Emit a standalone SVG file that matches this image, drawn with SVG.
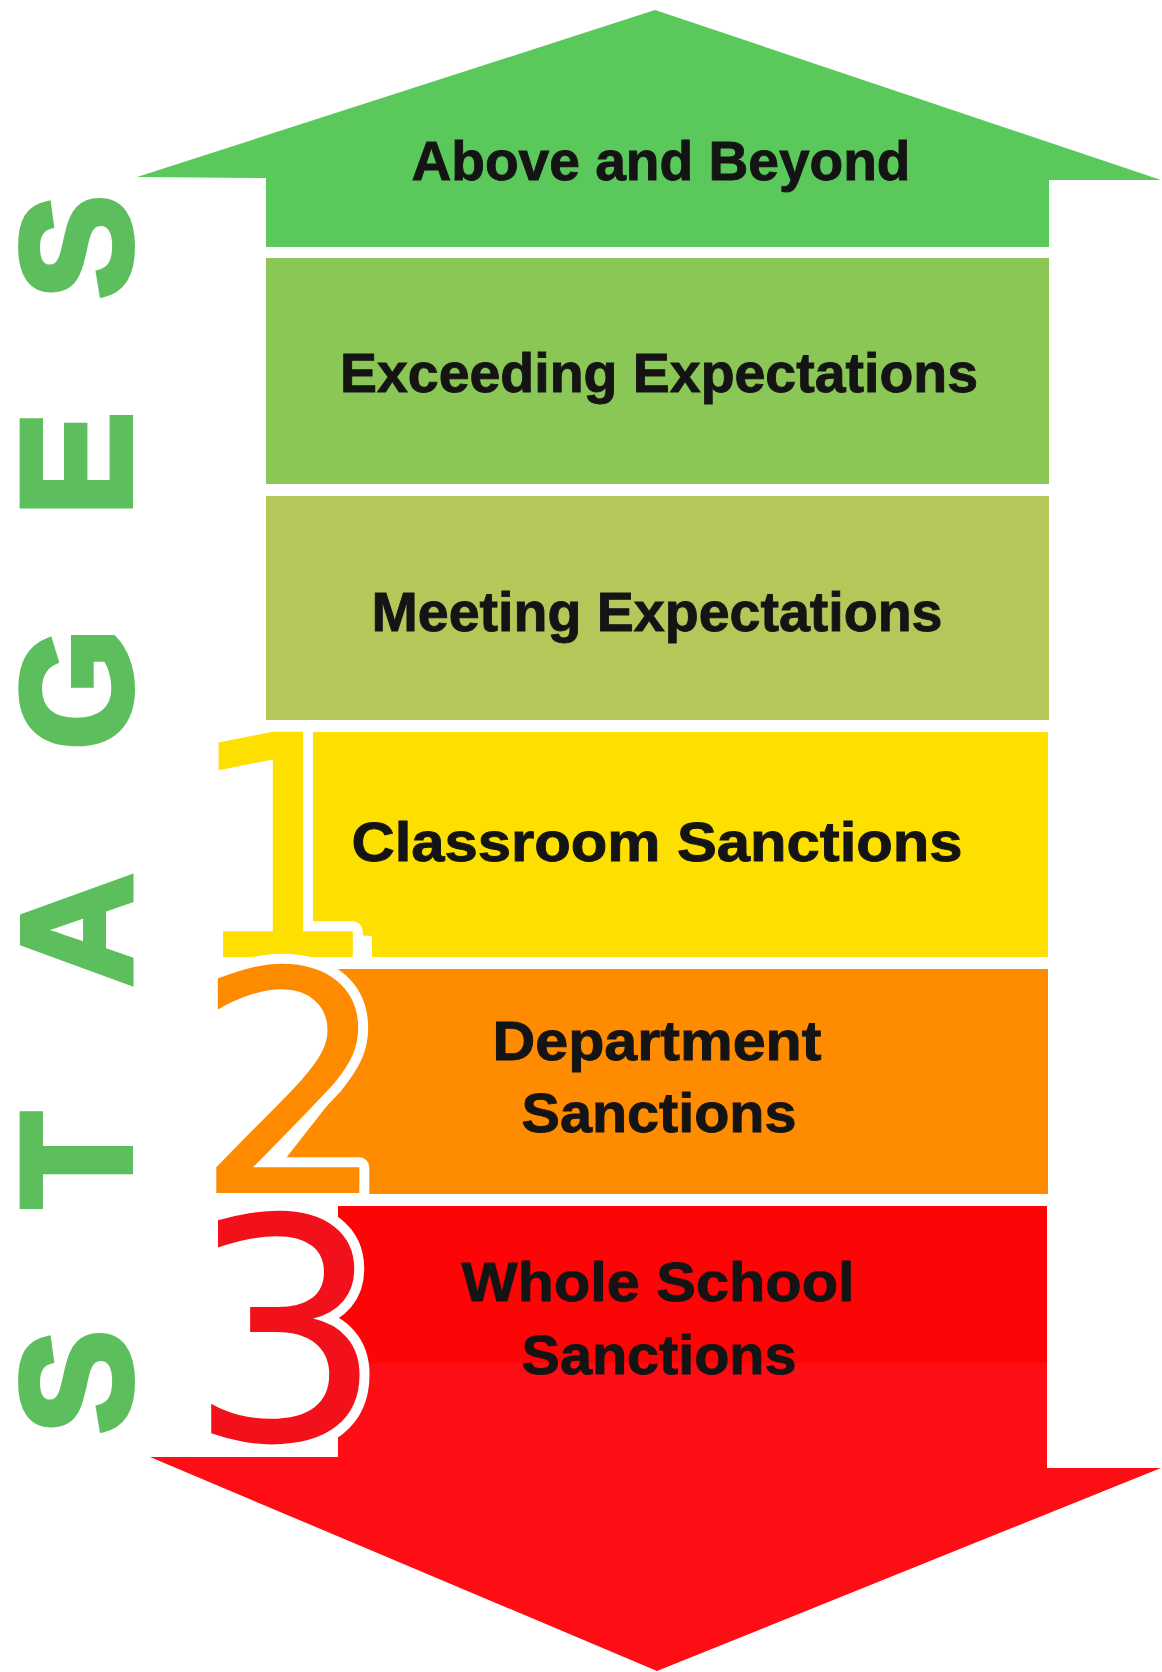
<svg xmlns="http://www.w3.org/2000/svg" width="1162" height="1672" viewBox="0 0 1162 1672">
  <style>
    .label { font-family: "Liberation Sans", Arial, sans-serif; font-weight: bold; text-anchor: middle; fill: #141414; stroke: #141414; stroke-width: 0.9px; }
    .big { font-size: 56px; }
    .mid { font-size: 55px; }
    .digit { font-family: "DejaVu Sans", sans-serif; font-size: 309px; text-anchor: middle; stroke: #ffffff; stroke-width: 20px; stroke-linejoin: round; paint-order: stroke; }
    .stages { font-family: "Liberation Sans", Arial, sans-serif; font-weight: bold; font-size: 156px; fill: #5cbe5c; stroke: #5cbe5c; stroke-width: 6px; stroke-linejoin: miter; text-anchor: middle; }
  </style>
  <rect width="1162" height="1672" fill="#ffffff"/>

  <!-- vertical word down the left edge, read bottom to top -->
  <g id="stages-title">
    <text class="stages" font-weight="bold" transform="rotate(-90)" x="-1382 -1160 -930 -689 -464 -247" y="130">STAGES</text>
  </g>

  <!-- top arrow: Above and Beyond -->
  <g id="above-and-beyond">
    <polygon points="655,10 1161,180 1049,180 1049,247 266,247 266,178 137,177" fill="#5ac85b"/>
    <text class="label big" x="661" y="180" textLength="499" lengthAdjust="spacingAndGlyphs" fill="#000000" stroke="#000000">Above and Beyond</text>
  </g>

  <g id="exceeding-expectations">
    <rect x="266" y="258" width="783" height="226" fill="#8bc756"/>
    <text class="label big" x="659" y="392" textLength="638" lengthAdjust="spacingAndGlyphs" fill="#000000" stroke="#000000">Exceeding Expectations</text>
  </g>

  <g id="meeting-expectations">
    <rect x="266" y="496" width="783" height="224" fill="#b4c85a"/>
    <text class="label big" x="657" y="631" textLength="571" lengthAdjust="spacingAndGlyphs">Meeting Expectations</text>
  </g>

  <!-- stage 1 -->
  <g id="classroom-sanctions">
    <polygon points="307,732 1048,732 1048,957 372,957 372,936 307,932" fill="#fee000"/>
    <text class="digit" x="283" y="957" fill="#fee000">1</text>
    <text class="label mid" x="657" y="861" textLength="611" lengthAdjust="spacingAndGlyphs">Classroom Sanctions</text>
  </g>

  <!-- stage 2 -->
  <g id="department-sanctions">
    <polygon points="330,969 1048,969 1048,1194 365,1194 365,1176 272,1176 358,1066 352,1000" fill="#fe8b00"/>
    <text class="digit" x="292" y="1193" fill="#fe8a00">2</text>
    <text class="label mid" x="657" y="1060" textLength="329" lengthAdjust="spacingAndGlyphs">Department</text>
    <text class="label mid" x="659" y="1132" textLength="275" lengthAdjust="spacingAndGlyphs">Sanctions</text>
  </g>

  <!-- stage 3 with the downward arrow -->
  <g id="whole-school-sanctions">
    <polygon points="338,1206 1047,1206 1047,1468 1161,1468 657,1671 150,1457 338,1457" fill="#fe0d14"/>
    <rect x="338" y="1206" width="709" height="157" fill="#fd0506"/>
    <text class="digit" x="286" y="1440" fill="#f2101a">3</text>
    <text class="label mid" x="658" y="1301" textLength="393" lengthAdjust="spacingAndGlyphs">Whole School</text>
    <text class="label mid" x="659" y="1374" textLength="275" lengthAdjust="spacingAndGlyphs">Sanctions</text>
  </g>

  <g id="connectors"/>
</svg>
